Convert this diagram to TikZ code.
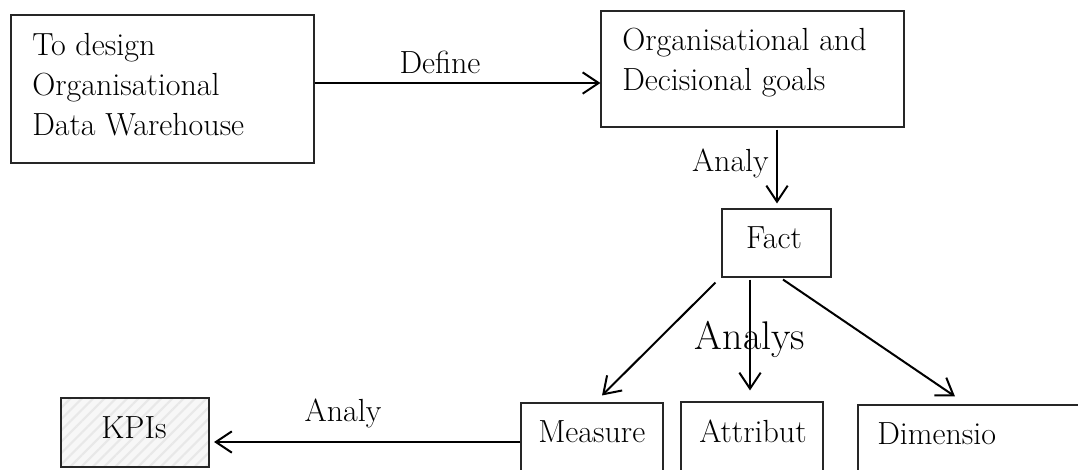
\documentclass[tikz,border=0pt]{standalone}
\usepackage{fontspec}
\usetikzlibrary{arrows.meta,calc,patterns.meta}
\begin{document}
\begin{tikzpicture}[x=0.75pt,y=-0.75pt,
  box/.style={draw=black!85,line width=0.8pt,rectangle,inner sep=0pt},
  txt/.style={inner sep=0pt,font=\fontsize{24}{30}\selectfont,align=left},
  arr/.style={line width=1.5pt,-{Straight Barb[length=12pt,width=16pt,line width=1.5pt]}}]
\clip (0,0) rectangle (1078,469);
% boxes
\node[box,minimum width=227.25pt,minimum height=111pt] (design) at (162.5,89) {};
\node[box,minimum width=227.25pt,minimum height=87pt] (goals) at (752.5,69) {};
\node[box,minimum width=81.75pt,minimum height=51pt] (fact) at (776.5,243) {};
\node[box,minimum width=106.5pt,minimum height=65.25pt] (measure) at (592,446.5) {};
\node[box,minimum width=106.5pt,minimum height=66pt] (attribut) at (752,446) {};
\node[box,minimum width=181.5pt,minimum height=63.75pt] (dimensio) at (979,447.5) {};
\node[box,minimum width=111pt,minimum height=51.75pt,
  preaction={fill=black!3},
  pattern={Lines[angle=45,distance=6pt,line width=1.6pt]},pattern color=black!9] (kpis) at (135,432.5) {};
% texts (multi-line nodes are placed by the baseline of their last line)
\node[txt,anchor=base west] (tdesign) at (32,135) {To design\\Organisational\\Data Warehouse};
\node[txt,anchor=base west] (tgoals) at (622,90) {Organisational and\\Decisional goals};
\node[txt,anchor=base] (tfact) at (774,248) {Fact};
\node[txt,anchor=base] (tkpis) at (134,438) {KPIs};
\node[txt,anchor=base west] (tmeasure) at (538,442) {Measure};
\node[txt,anchor=base west] (tattribut) at (699,442) {Attribut};
\node[txt,anchor=base west] (tdimensio) at (877,444) {Dimensio};
% connectors
\draw[arr] ($(design.east)+(0,-6)$) -- ($(goals.west)+(0,14)$);
\draw[arr] ($(goals.south)+(24.5,2)$) -- ($(fact.north)+(0.5,-5)$);
\draw[arr] ($(fact.south west)+(-6,5)$) -- ($(measure.north)+(10,-7)$);
\draw[arr] ($(fact.south)+(-26.5,2)$) -- ($(attribut.north)+(-2,-11)$);
\draw[arr] ($(fact.south)+(6.5,2)$) -- ($(dimensio.north)+(-24,-8)$);
\draw[arr] ($(measure.west)+(0,-4.5)$) -- ($(kpis.east)+(4,9.5)$);
% connector labels
\node[txt,anchor=base] (ldefine) at (440,73) {Define};
\node[txt,anchor=base east] (lanaly) at (769,171) {Analy};
\node[inner sep=0pt,font=\fontsize{30}{36}\selectfont,anchor=base] (lanalys) at (750,349) {Analys};
\node[txt,anchor=base] (lanaly2) at (343,421) {Analy};
\end{tikzpicture}
\end{document}
